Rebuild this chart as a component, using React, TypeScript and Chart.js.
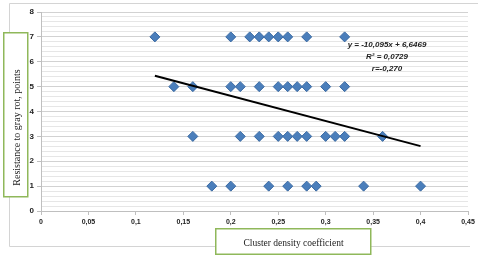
import React, { useEffect, useRef } from "react";
import { Chart, registerables } from "chart.js";

Chart.register(...registerables);

// Cluster density coefficient (x) and resistance to gray rot (points, y)
const densityValues = [
  0.12, 0.2, 0.22, 0.23, 0.24, 0.25, 0.26, 0.28, 0.32,
  0.14, 0.16, 0.2, 0.21, 0.23, 0.25, 0.26, 0.27, 0.28, 0.3, 0.32,
  0.16, 0.21, 0.23, 0.25, 0.26, 0.27, 0.28, 0.3, 0.31, 0.32, 0.36,
  0.18, 0.2, 0.24, 0.26, 0.28, 0.29, 0.34, 0.4,
];
const resistanceValues = [
  7, 7, 7, 7, 7, 7, 7, 7, 7,
  5, 5, 5, 5, 5, 5, 5, 5, 5, 5, 5,
  3, 3, 3, 3, 3, 3, 3, 3, 3, 3, 3,
  1, 1, 1, 1, 1, 1, 1, 1,
];

const trendSlope = -10.095;
const trendIntercept = 6.6469;
const annotationLines = ["y = -10,095x + 6,6469", "R² = 0,0729", "r=-0,270"];

const xTickLabels = ["0", "0,05", "0,1", "0,15", "0,2", "0,25", "0,3", "0,35", "0,4", "0,45"];
const yTitle = "Resistance to gray rot, points";
const xTitle = "Cluster density coefficient";

export default function App() {
  const canvasRef = useRef<HTMLCanvasElement | null>(null);

  useEffect(() => {
    const canvas = canvasRef.current;
    if (!canvas) return;

    const points = densityValues.map((x, i) => ({ x, y: resistanceValues[i] }));
    const xMin = Math.min(...densityValues);
    const xMax = Math.max(...densityValues);
    const trend = [xMin, xMax].map((x) => ({ x, y: trendSlope * x + trendIntercept }));

    const isMajor = (v: number) => Math.abs(v - Math.round(v)) < 1e-6;

    const decorations = {
      id: "decorations",
      beforeDraw(chart: any) {
        const ctx = chart.ctx;
        ctx.save();
        ctx.fillStyle = "#ffffff";
        ctx.fillRect(0, 0, chart.width, chart.height);
        ctx.strokeStyle = "#d4d4d4";
        ctx.lineWidth = 1;
        ctx.beginPath();
        ctx.moveTo(9.5, 3.5);
        ctx.lineTo(478, 3.5);
        ctx.moveTo(9.5, 3.5);
        ctx.lineTo(9.5, 246.5);
        ctx.lineTo(470, 246.5);
        ctx.stroke();
        ctx.restore();
      },
      afterDraw(chart: any) {
        const ctx = chart.ctx;
        ctx.save();
        // y title box
        ctx.fillStyle = "#ffffff";
        ctx.fillRect(3, 32, 25, 165);
        ctx.strokeStyle = "#8fb85a";
        ctx.lineWidth = 1.5;
        ctx.strokeRect(3.75, 32.75, 24, 164);
        ctx.save();
        ctx.translate(17, 127.5);
        ctx.rotate(-Math.PI / 2);
        ctx.fillStyle = "#222222";
        ctx.font = '10px "Liberation Serif"';
        ctx.textAlign = "center";
        ctx.textBaseline = "middle";
        ctx.fillText(yTitle, 0, 0);
        ctx.restore();
        // x title box
        ctx.fillStyle = "#ffffff";
        ctx.fillRect(215, 228, 156, 27);
        ctx.strokeRect(215.75, 228.75, 155, 25.5);
        ctx.fillStyle = "#222222";
        ctx.font = '9.5px "Liberation Serif"';
        ctx.textAlign = "center";
        ctx.textBaseline = "middle";
        ctx.fillText(xTitle, 293.5, 243);
        // annotation
        ctx.font = 'italic bold 8px "Liberation Sans"';
        ctx.fillStyle = "#222222";
        annotationLines.forEach((line, i) => {
          ctx.fillText(line, 387, 45 + i * 12);
        });
        ctx.restore();
      },
    };

    const chart = new Chart(canvas, {
      type: "scatter",
      data: {
        datasets: [
          {
            type: "line",
            data: trend,
            borderColor: "#000000",
            borderWidth: 2,
            pointRadius: 0,
            fill: false,
            order: 0,
          } as any,
          {
            data: points,
            pointStyle: "rectRot",
            pointRadius: 5,
            pointBackgroundColor: "#4a7ebb",
            pointBorderColor: "#3a6aa3",
            pointBorderWidth: 1,
            order: 1,
          },
        ],
      },
      options: {
        responsive: false,
        maintainAspectRatio: false,
        animation: false,
        layout: { padding: { top: 12, right: 12, left: 0, bottom: 0 } },
        plugins: {
          legend: { display: false },
          tooltip: { enabled: false },
        },
        scales: {
          x: {
            type: "linear",
            min: 0,
            max: 0.45,
            afterFit: (scale: any) => {
              scale.height = 46;
            },
            border: { color: "#bfbfbf", width: 1 },
            grid: {
              drawOnChartArea: false,
              drawTicks: true,
              tickLength: 4,
              tickColor: "#bfbfbf",
            },
            ticks: {
              stepSize: 0.05,
              maxTicksLimit: 20,
              autoSkip: false,
              maxRotation: 0,
              padding: 3,
              color: "#222222",
              font: { family: '"Liberation Sans"', size: 7, weight: "bold" },
              callback: (_v: any, i: number) => xTickLabels[i] ?? "",
            },
          },
          y: {
            type: "linear",
            min: 0,
            max: 8,
            afterFit: (scale: any) => {
              scale.width = 41;
            },
            border: { color: "#bfbfbf", width: 1 },
            grid: {
              drawOnChartArea: true,
              drawTicks: true,
              tickLength: 4,
              color: (c: any) => (isMajor(c.tick?.value ?? 0) ? "#d2d2d2" : "#e6e6e6"),
              tickColor: (c: any) => (isMajor(c.tick?.value ?? 0) ? "#bfbfbf" : "rgba(0,0,0,0)"),
            },
            ticks: {
              stepSize: 0.2,
              maxTicksLimit: 60,
              autoSkip: false,
              padding: 3,
              color: "#222222",
              font: { family: '"Liberation Sans"', size: 8, weight: "bold" },
              callback: (v: any) => (isMajor(Number(v)) ? String(Math.round(Number(v))) : ""),
            },
          },
        },
      },
      plugins: [decorations],
    });

    return () => chart.destroy();
  }, []);

  return (
    <div style={{ position: "fixed", left: 0, top: 0, width: 480, height: 257, background: "#fff" }}>
      <canvas ref={canvasRef} width={480} height={257} style={{ display: "block" }} />
    </div>
  );
}
